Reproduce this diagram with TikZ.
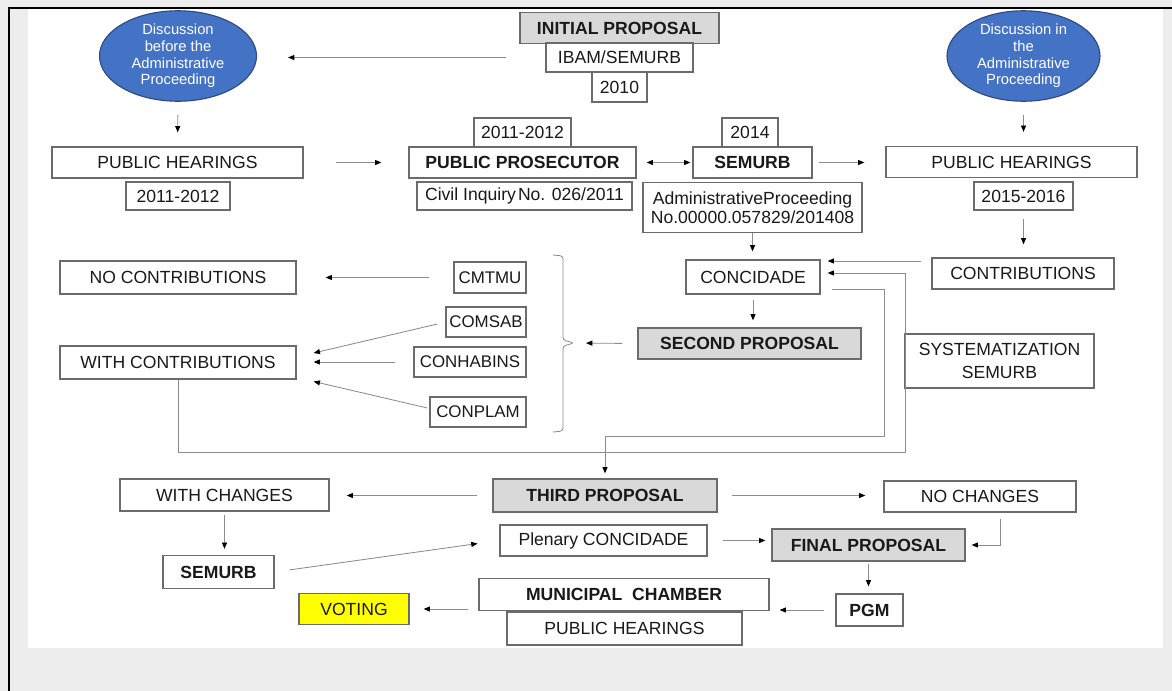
\documentclass[tikz,border=0pt]{standalone}
\usepackage{fontspec}
\setmainfont{Liberation Sans}
\usetikzlibrary{shapes.geometric,arrows.meta}
\definecolor{boxline}{HTML}{6B6B6B}
\definecolor{arrline}{HTML}{8C8C8C}
\definecolor{propgray}{HTML}{D9D9D9}
\definecolor{ellblue}{HTML}{4472C4}
\definecolor{ellrim}{HTML}{2F4A80}
\definecolor{voteyel}{HTML}{FFFF00}
\newcommand{\pxu}{0.025cm}
\newcommand{\boxfont}{\fontsize{12.5}{15}\selectfont}
\tikzset{
  sz/.style 2 args={minimum width=#1*\pxu, minimum height=#2*\pxu},
  box/.style={draw=boxline, line width=0.9pt, inner sep=0pt, font=\boxfont, text=black!90},
  council/.style={box, font=\fontsize{12}{14}\selectfont},
  boldbox/.style={box, font=\boxfont\bfseries},
  propbox/.style={boldbox, fill=propgray},
  disc/.style={ellipse, draw=ellrim, line width=0.8pt, fill=ellblue, inner sep=0pt,
    text=white, align=center, font=\fontsize{10.5}{11.9}\selectfont},
  arr/.style={draw=arrline, line width=0.6pt, -{Triangle[length=4.5pt, width=3.6pt, color=black]}},
  darr/.style={draw=arrline, line width=0.6pt,
    {Triangle[length=4.5pt, width=3.6pt, color=black]}-{Triangle[length=4.5pt, width=3.6pt, color=black]}},
}
\begin{document}
\begin{tikzpicture}[x=\pxu, y=-\pxu]
  \useasboundingbox (0,0) rectangle (1172,691);
  \fill[black!7] (0,0) rectangle (1172,691);
  \fill[white] (28,9) rectangle (1163,648);
  \draw[line width=1.6pt] (9,691) -- (9,8) -- (1172,8);

  % top row
  \node[disc, sz={157}{88}] (elL) at (178,56) {Discussion\\before the\\Administrative\\Proceeding};
  \node[disc, sz={153}{88}] (elR) at (1023.5,56) {Discussion in\\the\\Administrative\\Proceeding};
  \node[propbox, sz={199}{31}] (init) at (619.5,28) {INITIAL PROPOSAL};
  \node[box, sz={147}{29}] (ibam) at (619.5,57.5) {IBAM/SEMURB};
  \node[box, sz={55}{30}] (y2010) at (619.5,87) {2010};

  % hearings, prosecutor, semurb
  \node[box, sz={251}{31}] (phL) at (177.5,162.5) {PUBLIC HEARINGS};
  \node[box, sz={104}{28}] (phLyr) at (178,196) {2011-2012};
  \node[box, sz={97}{29}] (ppyr) at (522.5,132.5) {2011-2012};
  \node[boldbox, sz={227}{31}] (pp) at (522.5,162.5) {PUBLIC PROSECUTOR};
  \node[box, sz={215}{28}] (civil) at (524.5,196) {Civil Inquiry\hspace{0.12em}No. 026/2011};
  \node[box, sz={56}{29}] (semyr) at (750,132.5) {2014};
  \node[boldbox, sz={119}{31}] (semurb) at (752.5,162.5) {SEMURB};
  \node[box, sz={219}{50}, align=center, font=\fontsize{12.5}{13.5}\selectfont] (admin) at (752.5,207.5)
    {AdministrativeProceeding\\No.00000.057829/201408};
  \node[box, sz={251}{31}] (phR) at (1011.5,162) {PUBLIC HEARINGS};
  \node[box, sz={99}{28}] (phRyr) at (1023.5,196) {2015-2016};

  % councils
  \node[box, sz={236}{33}] (nocontr) at (178,277.5) {NO CONTRIBUTIONS};
  \node[box, sz={236}{33}] (withc) at (178,362.5) {WITH CONTRIBUTIONS};
  \node[council, sz={72}{31}] (cmtmu) at (490,277.5) {CMTMU};
  \node[council, sz={80}{30}] (comsab) at (486,322) {COMSAB};
  \node[council, sz={112}{30}] (conhab) at (470,362) {CONHABINS};
  \node[council, sz={96}{30}] (conplam) at (478,412) {CONPLAM};
  \node[box, sz={134}{34}] (concid) at (753,277) {CONCIDADE};
  \node[propbox, sz={223}{31}] (second) at (749.5,343.5) {SECOND PROPOSAL};
  \node[box, sz={182}{31}] (contr) at (1023,273.5) {CONTRIBUTIONS};
  \node[box, sz={189}{54}, align=center, font=\fontsize{12.5}{16}\selectfont] (system) at (999.5,361)
    {SYSTEMATIZATION\\SEMURB};

  % lower rows
  \node[propbox, sz={224}{33}] (third) at (605,495.5) {THIRD PROPOSAL};
  \node[box, sz={209}{32}] (withch) at (224.5,495) {WITH CHANGES};
  \node[box, sz={192}{31}] (noch) at (980,496.5) {NO CHANGES};
  \node[boldbox, sz={111}{33}] (semB) at (218.5,572) {SEMURB};
  \node[box, sz={207}{31}] (plen) at (603.5,540.5) {Plenary CONCIDADE};
  \node[propbox, sz={193}{32}] (final) at (868.5,545) {FINAL PROPOSAL};
  \node[boldbox, sz={67}{32}] (pgm) at (869.5,610) {PGM};
  \node[boldbox, sz={290}{32}] (mun) at (624,594.5) {MUNICIPAL\ \ CHAMBER};
  \node[box, sz={235}{33}] (phB) at (624.5,628.5) {PUBLIC HEARINGS};
  \node[box, sz={110}{31}, fill=voteyel] (vote) at (354,609) {VOTING};

  \coordinate (braceTip) at (574,343);
  \coordinate (lowA) at (905,452);
  \coordinate (lowB) at (884,436);
  \path ([yshift=12.5*\pxu]contr.west) coordinate (cIn);

  \draw[arrline, line width=0.6pt, rounded corners=2pt]
    (553,255) -- (563,256) -- (563,340) -- (braceTip) -- (563,346) -- (563,431) -- (553,432);

  \draw[arr, shorten <=39*\pxu, shorten >=31*\pxu] (ibam.west) -- (ibam.west -| elL.east);
  \draw[arr, shorten <=13*\pxu, shorten >=14*\pxu] (elL.south) -- (phL.north);
  \draw[arr, shorten <=13*\pxu, shorten >=14*\pxu] (elR.south) -- (elR.south |- phR.north);
  \draw[arr, shorten <=32*\pxu, shorten >=27*\pxu] (phL.east) -- (pp.west);
  \draw[darr, shorten <=10*\pxu, shorten >=2*\pxu] (pp.east) -- (semurb.west);
  \draw[arr, shorten <=6*\pxu, shorten >=21*\pxu] (semurb.east) -- (semurb.east -| phR.west);
  \draw[arr, shorten >=8*\pxu] (admin.south) -- (admin.south |- concid.north);
  \draw[arr, shorten <=8*\pxu, shorten >=13*\pxu] (phRyr.south) -- (phRyr.south |- contr.north);
  \draw[arr, shorten <=10*\pxu, shorten >=7*\pxu] (cIn) -- (cIn -| concid.east);
  \draw[arr, shorten <=5*\pxu, shorten >=7*\pxu] (concid.south) -- (concid.south |- second.north);
  \draw[arr, shorten <=15*\pxu, shorten >=12*\pxu] (second.west) -- (braceTip);
  \draw[arr, shorten <=24*\pxu, shorten >=29*\pxu] (cmtmu.west) -- (nocontr.east);
  \draw[arr] ([xshift=-8*\pxu, yshift=-2*\pxu]comsab.west) -- ([xshift=17*\pxu, yshift=9.5*\pxu]withc.east);
  \draw[arr, shorten <=18*\pxu, shorten >=17*\pxu] (conhab.west) -- (conhab.west -| withc.east);
  \draw[arr] ([xshift=-2*\pxu, yshift=4*\pxu]conplam.west) -- ([xshift=17*\pxu, yshift=-19*\pxu]withc.east);
  \draw[arr, shorten >=7*\pxu] (withc.south) |- (lowA) |- ([yshift=4*\pxu]concid.east);
  \draw[arr, shorten >=5*\pxu] ([xshift=11*\pxu, yshift=-12*\pxu]concid.east) -| (lowB) -| (third.north);
  \draw[arr, shorten <=15*\pxu, shorten >=17*\pxu] (third.west) -- (third.west -| withch.east);
  \draw[arr, shorten <=14*\pxu, shorten >=18*\pxu] (third.east) -- (third.east -| noch.west);
  \draw[arr, shorten <=3*\pxu, shorten >=6*\pxu] (withch.south) -- (withch.south |- semB.north);
  \draw[arr, shorten <=15*\pxu, shorten >=22*\pxu] (semB.east) -- (plen.west);
  \draw[arr, shorten <=15*\pxu, shorten >=6*\pxu] (plen.east) -- (plen.east -| final.west);
  \draw[arr, shorten <=6*\pxu, shorten >=6*\pxu] ([xshift=20*\pxu]noch.south) |- (final.east);
  \draw[arr, shorten <=2*\pxu, shorten >=7*\pxu] (final.south) -- (final.south |- pgm.north);
  \draw[arr, shorten <=11*\pxu, shorten >=10*\pxu] (pgm.west) -- (pgm.west -| mun.east);
  \draw[arr, shorten <=10*\pxu, shorten >=14*\pxu] (vote.east -| mun.west) -- (vote.east);
\end{tikzpicture}
\end{document}
